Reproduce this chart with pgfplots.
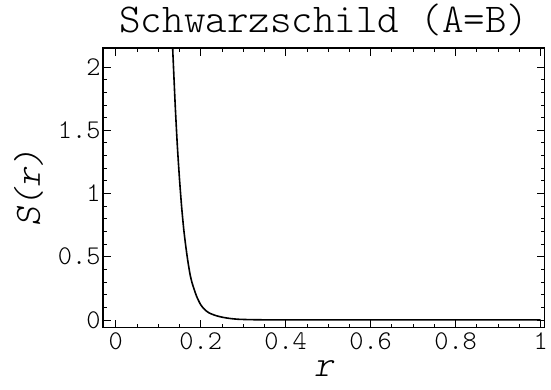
\documentclass[border=0pt]{standalone}
\usepackage{fontspec}
\newfontfamily\cour{Latin Modern Mono Light}
\usepackage{pgfplots}
\pgfplotsset{compat=1.18}
\begin{document}
\begin{tikzpicture}
\begin{axis}[
  scale only axis, width=442pt, height=280pt,
  xmin=-0.03, xmax=1.01, ymin=-0.063, ymax=2.15,
  xtick={0,0.2,0.4,0.6,0.8,1}, ytick={0,0.5,1,1.5,2},
  minor x tick num=3, minor y tick num=4,
  tick align=inside, major tick length=8pt, minor tick length=4pt,
  every tick/.style={line width=0.8pt},
  /pgf/number format/assume math mode=true,
  tick label style={font=\fontsize{27}{27}\selectfont\cour},
  xticklabel style={yshift=-1pt},
  yticklabel style={xshift=1pt},
  title={Schwarzschild (A=B)},
  title style={font=\fontsize{41}{41}\selectfont\cour, at={(0.5,1)}, anchor=south, yshift=2pt},
  xlabel={r}, ylabel={S(r)},
  xlabel style={font=\fontsize{37}{37}\selectfont\cour\itshape, yshift=-4pt},
  ylabel style={font=\fontsize{37}{37}\selectfont\cour\itshape, yshift=8pt},
  axis line style={line width=1.2pt},
]
\addplot[smooth, tension=0.4, line width=1.6pt] coordinates {
(0.128,2.6) (0.134,2.15) (0.14,1.70) (0.145,1.38) (0.15,1.12) (0.155,0.90)
(0.16,0.72) (0.165,0.58) (0.17,0.46) (0.175,0.36) (0.18,0.29) (0.19,0.19)
(0.20,0.12) (0.21,0.08) (0.22,0.055) (0.235,0.035) (0.25,0.022) (0.27,0.011)
(0.29,0.005) (0.32,0.002) (0.36,0.0005) (0.4,0) (0.5,0) (0.6,0) (0.7,0)
(0.8,0) (0.9,0) (1.0,0)
};
\end{axis}
\path (current axis.south west) ++(-103pt,-62pt) rectangle ++(551pt,390pt);
\end{tikzpicture}
\end{document}
